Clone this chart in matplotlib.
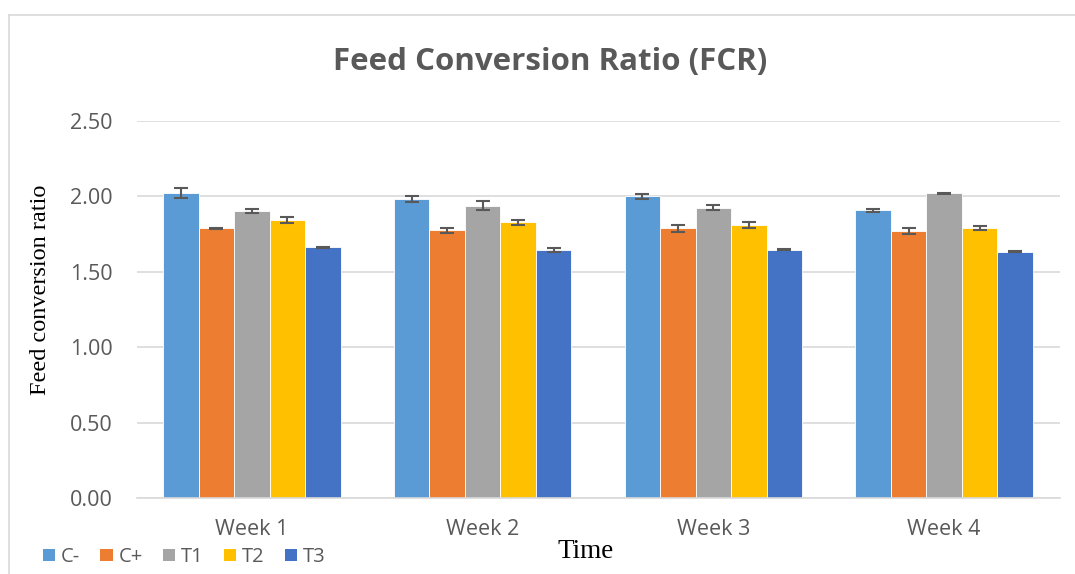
import numpy as np
import matplotlib
matplotlib.use('Agg')
import matplotlib.pyplot as plt
from matplotlib.lines import Line2D
from matplotlib.patches import Patch

# Data
weeks = ['Week 1', 'Week 2', 'Week 3', 'Week 4']
groups = ['C-', 'C+', 'T1', 'T2', 'T3']
fcr_c_minus = [2.022, 1.982, 2.002, 1.907]
fcr_c_plus = [1.788, 1.774, 1.788, 1.77]
fcr_t1 = [1.903, 1.939, 1.926, 2.02]
fcr_t2 = [1.843, 1.827, 1.809, 1.788]
fcr_t3 = [1.662, 1.643, 1.645, 1.632]
err_c_minus = [0.035, 0.022, 0.016, 0.011]
err_c_plus = [0.003, 0.015, 0.024, 0.021]
err_t1 = [0.011, 0.031, 0.014, 0.004]
err_t2 = [0.02, 0.018, 0.019, 0.014]
err_t3 = [0.003, 0.015, 0.003, 0.004]
yticks = [0.0, 0.5, 1.0, 1.5, 2.0, 2.5]

colors = ['#5B9BD5', '#ED7D31', '#A5A5A5', '#FFC000', '#4472C4']
values = [fcr_c_minus, fcr_c_plus, fcr_t1, fcr_t2, fcr_t3]
errors = [err_c_minus, err_c_plus, err_t1, err_t2, err_t3]

text_grey = '#595959'
sans = ['Open Sans', 'DejaVu Sans']
serif = ['Liberation Serif', 'DejaVu Serif']

fig = plt.figure(figsize=(10.75, 5.74), dpi=100)
ax = fig.add_axes([136.5 / 1075, 1 - 498 / 574, (1059.5 - 136.5) / 1075, (498 - 121) / 574])

x = np.arange(len(weeks))
bar_w = 0.154
for i, (vals, errs, col) in enumerate(zip(values, errors, colors)):
    pos = x + (i - 2) * bar_w
    ax.bar(pos, vals, width=bar_w, color=col, edgecolor='white', linewidth=0.6, zorder=2)
    ax.errorbar(pos, vals, yerr=errs, fmt='none', ecolor=text_grey,
                elinewidth=1.5, capsize=5, capthick=1.5, zorder=3)

ax.set_xlim(-0.5, len(weeks) - 0.5)
ax.set_ylim(0, 2.5)
ax.set_yticks(yticks)
ax.set_yticklabels([f'{v:.2f}' for v in yticks], fontsize=15.5, color=text_grey, family=sans)
ax.set_xticks(x)
ax.set_xticklabels(weeks, fontsize=15.5, color=text_grey, family=sans)
ax.tick_params(axis='y', length=0, pad=17)
ax.tick_params(axis='x', length=0, pad=15)
ax.yaxis.grid(True, color='#D9D9D9', linewidth=1.2, zorder=0)
ax.set_axisbelow(True)
for s in ['top', 'right', 'left']:
    ax.spines[s].set_visible(False)
ax.spines['bottom'].set_color('#D9D9D9')
ax.spines['bottom'].set_linewidth(1.2)

fig.text(41 / 1075, 1 - 290 / 574, 'Feed conversion ratio', fontsize=17.5, family=serif,
         rotation=90, ha='center', va='center')
fig.text(586 / 1075, 1 - 552 / 574, 'Time', fontsize=19.5, family=serif, ha='center', va='center')

fig.text(550 / 1075, 1 - 62 / 574, 'Feed Conversion Ratio (FCR)', fontsize=22.5, fontweight='bold',
         color=text_grey, family=sans, ha='center', va='center')

# legend at bottom left
handles = [Patch(facecolor=c, edgecolor='none') for c in colors]
fig.legend(handles, groups, loc='center left', bbox_to_anchor=(35 / 1075, 1 - 557 / 574),
           ncol=5, frameon=False, handlelength=0.6, handleheight=0.6,
           handletextpad=0.3, columnspacing=1.0, labelcolor=text_grey,
           prop={'family': sans, 'size': 14.5}, borderaxespad=0)

# chart border
fig.add_artist(Line2D([9 / 1075, 1], [1 - 15 / 574, 1 - 15 / 574], color='#D9D9D9', linewidth=1.2))
fig.add_artist(Line2D([9 / 1075, 9 / 1075], [0, 1 - 15 / 574], color='#D9D9D9', linewidth=1.2))

fig.savefig('out.png', dpi=100)
